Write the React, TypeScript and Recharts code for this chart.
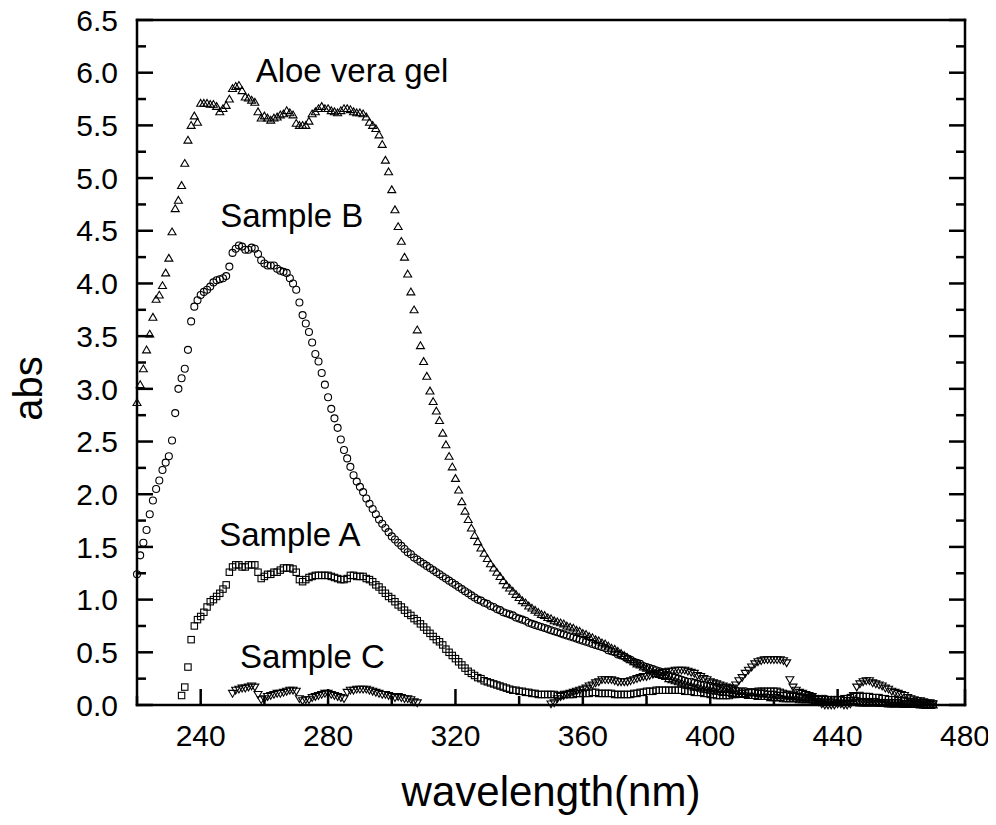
import { ScatterChart, Scatter, XAxis, YAxis, ReferenceDot } from "recharts"

const FONT = "'Liberation Sans', Arial, Helvetica, sans-serif"

// absorbance readings, 1 nm steps from each start wavelength
const aloeStart = 220
const aloeAbs = [
  2.87, 3.04, 3.19, 3.37, 3.52, 3.68, 3.85, 3.89, 3.98, 4.10,
  4.24, 4.49, 4.71, 4.79, 4.93, 5.14, 5.36, 5.50, 5.59, 5.53,
  5.71, 5.71, 5.71, 5.70, 5.70, 5.68, 5.63, 5.66, 5.69, 5.75,
  5.85, 5.87, 5.88, 5.83, 5.77, 5.76, 5.74, 5.72, 5.63, 5.57,
  5.59, 5.57, 5.55, 5.57, 5.58, 5.60, 5.61, 5.64, 5.62, 5.60,
  5.52, 5.50, 5.50, 5.50, 5.54, 5.61, 5.63, 5.66, 5.68, 5.66,
  5.66, 5.64, 5.63, 5.62, 5.64, 5.66, 5.66, 5.65, 5.63, 5.62,
  5.62, 5.61, 5.58, 5.53, 5.50, 5.47, 5.41, 5.32, 5.17, 5.06,
  4.89, 4.70, 4.54, 4.40, 4.25, 4.09, 3.92, 3.75, 3.56, 3.41,
  3.26, 3.12, 2.98, 2.88, 2.79, 2.70, 2.58, 2.47, 2.36, 2.26,
  2.15, 2.04, 1.93, 1.84, 1.76, 1.68, 1.61, 1.55, 1.49, 1.44,
  1.39, 1.34, 1.30, 1.26, 1.22, 1.18, 1.14, 1.11, 1.08, 1.05,
  1.02, 0.99, 0.97, 0.94, 0.92, 0.90, 0.88, 0.86, 0.85, 0.83,
  0.82, 0.80, 0.79, 0.78, 0.77, 0.75, 0.74, 0.73, 0.71, 0.70,
  0.68, 0.67, 0.65, 0.64, 0.62, 0.61, 0.59, 0.58, 0.56, 0.54,
  0.53, 0.51, 0.49, 0.47, 0.45, 0.43, 0.41, 0.39, 0.38, 0.36,
  0.35, 0.33, 0.32, 0.30, 0.29, 0.28, 0.27, 0.25, 0.24, 0.23,
  0.22, 0.21, 0.20, 0.19, 0.18, 0.17, 0.17, 0.16, 0.15, 0.15,
  0.14, 0.14, 0.13, 0.13, 0.12, 0.12, 0.12, 0.11, 0.11, 0.10,
  0.10, 0.10, 0.09, 0.09, 0.09, 0.08, 0.08, 0.08, 0.08, 0.07,
  0.07, 0.07, 0.07, 0.06, 0.06, 0.06, 0.06, 0.06, 0.05, 0.05,
  0.05, 0.05, 0.05, 0.04, 0.04, 0.04, 0.04, 0.04, 0.04, 0.03,
  0.03, 0.03, 0.03, 0.03, 0.03, 0.03, 0.03, 0.02, 0.02, 0.02,
  0.02, 0.02, 0.02, 0.02, 0.02, 0.02, 0.01, 0.01, 0.01, 0.01,
  0.01, 0.01, 0.01, 0.01, 0.01, 0.01, 0.00, 0.00, 0.00, 0.00,
  0.00,
]

const sampleBStart = 220
const sampleBAbs = [
  1.24, 1.42, 1.54, 1.66, 1.81, 1.94, 2.05, 2.13, 2.23, 2.30,
  2.36, 2.51, 2.77, 3.00, 3.10, 3.19, 3.37, 3.64, 3.78, 3.84,
  3.89, 3.92, 3.94, 3.97, 4.01, 4.03, 4.04, 4.05, 4.07, 4.16,
  4.29, 4.33, 4.36, 4.35, 4.32, 4.32, 4.34, 4.33, 4.28, 4.22,
  4.19, 4.17, 4.17, 4.17, 4.14, 4.12, 4.11, 4.10, 4.05, 4.00,
  3.94, 3.82, 3.70, 3.62, 3.54, 3.44, 3.33, 3.26, 3.15, 3.04,
  2.92, 2.81, 2.72, 2.63, 2.52, 2.42, 2.34, 2.26, 2.18, 2.12,
  2.07, 2.02, 1.96, 1.91, 1.86, 1.81, 1.76, 1.72, 1.68, 1.64,
  1.60, 1.57, 1.54, 1.51, 1.48, 1.45, 1.43, 1.40, 1.38, 1.36,
  1.34, 1.32, 1.30, 1.28, 1.26, 1.24, 1.22, 1.20, 1.18, 1.16,
  1.14, 1.12, 1.10, 1.08, 1.06, 1.04, 1.02, 1.00, 0.99, 0.97,
  0.96, 0.94, 0.93, 0.91, 0.90, 0.88, 0.87, 0.86, 0.85, 0.83,
  0.82, 0.81, 0.80, 0.78, 0.77, 0.76, 0.75, 0.74, 0.73, 0.72,
  0.71, 0.70, 0.69, 0.68, 0.67, 0.66, 0.65, 0.64, 0.63, 0.62,
  0.61, 0.60, 0.59, 0.58, 0.57, 0.56, 0.55, 0.54, 0.52, 0.51,
  0.50, 0.48, 0.47, 0.46, 0.44, 0.43, 0.41, 0.40, 0.39, 0.37,
  0.36, 0.35, 0.34, 0.33, 0.32, 0.31, 0.29, 0.28, 0.27, 0.26,
  0.25, 0.24, 0.23, 0.22, 0.22, 0.21, 0.20, 0.19, 0.19, 0.18,
  0.18, 0.17, 0.17, 0.16, 0.16, 0.15, 0.15, 0.14, 0.14, 0.13,
  0.13, 0.13, 0.12, 0.12, 0.12, 0.11, 0.11, 0.11, 0.10, 0.10,
  0.10, 0.09, 0.09, 0.09, 0.09, 0.08, 0.08, 0.08, 0.08, 0.07,
  0.07, 0.07, 0.07, 0.06, 0.06, 0.06, 0.06, 0.05, 0.05, 0.05,
  0.05, 0.05, 0.04, 0.04, 0.04, 0.04, 0.04, 0.03, 0.03, 0.03,
  0.03, 0.03, 0.03, 0.02, 0.02, 0.02, 0.02, 0.02, 0.02, 0.02,
  0.01, 0.01, 0.01, 0.01, 0.01, 0.01, 0.01, 0.00, 0.00, 0.00,
  0.00,
]

const sampleAStart = 234
const sampleAAbs = [
  0.09, 0.17, 0.36, 0.62, 0.75, 0.81, 0.84, 0.88, 0.93, 0.98,
  1.00, 1.03, 1.06, 1.10, 1.14, 1.26, 1.31, 1.33, 1.33, 1.31,
  1.31, 1.33, 1.33, 1.33, 1.26, 1.20, 1.22, 1.24, 1.24, 1.26,
  1.26, 1.28, 1.30, 1.30, 1.30, 1.29, 1.26, 1.19, 1.17, 1.19,
  1.21, 1.22, 1.23, 1.23, 1.23, 1.23, 1.23, 1.22, 1.21, 1.20,
  1.19, 1.19, 1.20, 1.23, 1.23, 1.22, 1.22, 1.22, 1.20, 1.19,
  1.17, 1.14, 1.12, 1.09, 1.06, 1.03, 1.01, 0.98, 0.95, 0.93,
  0.90, 0.87, 0.85, 0.82, 0.80, 0.77, 0.74, 0.71, 0.68, 0.65,
  0.62, 0.60, 0.57, 0.53, 0.50, 0.47, 0.44, 0.41, 0.38, 0.35,
  0.32, 0.30, 0.28, 0.26, 0.25, 0.23, 0.22, 0.21, 0.20, 0.19,
  0.18, 0.17, 0.16, 0.15, 0.14, 0.14, 0.13, 0.13, 0.12, 0.12,
  0.11, 0.11, 0.10, 0.10, 0.10, 0.10, 0.10, 0.10, 0.09, 0.09,
  0.10, 0.10, 0.10, 0.10, 0.11, 0.11, 0.11, 0.11, 0.11, 0.12,
  0.12, 0.11, 0.11, 0.11, 0.11, 0.11, 0.10, 0.10, 0.10, 0.10,
  0.10, 0.10, 0.11, 0.11, 0.12, 0.12, 0.13, 0.13, 0.13, 0.14,
  0.14, 0.14, 0.14, 0.14, 0.14, 0.14, 0.14, 0.14, 0.13, 0.13,
  0.13, 0.12, 0.12, 0.12, 0.11, 0.11, 0.10, 0.10, 0.09, 0.09,
  0.09, 0.09, 0.09, 0.10, 0.10, 0.11, 0.11, 0.11, 0.12, 0.12,
  0.12, 0.13, 0.13, 0.13, 0.13, 0.13, 0.13, 0.13, 0.12, 0.11,
  0.10, 0.10, 0.09, 0.08, 0.07, 0.07, 0.06, 0.06, 0.05, 0.05,
  0.05, 0.05, 0.05, 0.05, 0.05, 0.05, 0.05, 0.05, 0.06, 0.06,
  0.07, 0.08, 0.08, 0.09, 0.08, 0.08, 0.08, 0.07, 0.07, 0.07,
  0.06, 0.06, 0.05, 0.05, 0.05, 0.04, 0.04, 0.04, 0.03, 0.03,
  0.03, 0.02, 0.02, 0.02, 0.01, 0.01, 0.01,
]

// null = below zero, not shown in the original
const sampleCStart = 250
const sampleCAbs = [
  0.11, 0.14, 0.15, 0.16, 0.16, 0.17, 0.18, 0.17, 0.10, 0.05,
  0.06, 0.08, 0.09, 0.10, 0.11, 0.11, 0.12, 0.13, 0.14, 0.14,
  0.13, 0.06, 0.04, 0.05, 0.05, 0.07, 0.08, 0.09, 0.10, 0.11,
  0.11, 0.10, 0.09, 0.08, 0.07, 0.06, 0.12, 0.14, 0.14, 0.15,
  0.15, 0.15, 0.15, 0.14, 0.13, 0.12, 0.11, 0.10, 0.10, 0.09,
  0.08, 0.07, 0.08, 0.07, 0.06, 0.06, 0.05, 0.03, 0.02, null,
  null, null, null, null, null, null, null, null, null, null,
  null, null, null, null, null, null, null, null, null, null,
  null, null, null, null, null, null, null, null, null, null,
  null, null, null, null, null, null, null, null, null, null,
  0.01, 0.02, 0.06, 0.08, 0.09, 0.10, 0.11, 0.12, 0.13, 0.14,
  0.15, 0.16, 0.18, 0.19, 0.21, 0.22, 0.24, 0.24, 0.24, 0.24,
  0.23, 0.22, 0.22, 0.22, 0.22, 0.23, 0.24, 0.25, 0.26, 0.27,
  0.27, 0.28, 0.29, 0.30, 0.30, 0.31, 0.31, 0.32, 0.32, 0.33,
  0.33, 0.33, 0.33, 0.32, 0.31, 0.30, 0.28, 0.27, 0.25, 0.24,
  0.22, 0.21, 0.20, 0.19, 0.18, 0.17, 0.16, 0.16, 0.19, 0.23,
  0.26, 0.30, 0.33, 0.36, 0.39, 0.41, 0.42, 0.43, 0.43, 0.43,
  0.43, 0.43, 0.43, 0.42, 0.40, 0.24, 0.17, 0.14, 0.12, 0.11,
  0.10, 0.09, 0.08, 0.06, 0.03, 0.01, 0.00, 0.00, 0.00, 0.00,
  0.01, 0.01, 0.00, 0.00, 0.01, 0.09, 0.17, 0.20, 0.22, 0.23,
  0.23, 0.21, 0.20, 0.19, 0.18, 0.16, 0.15, 0.13, 0.12, 0.11,
  0.10, 0.09, 0.07, 0.06, 0.05, 0.04, 0.04, 0.03, 0.02, 0.02,
  0.01,
]

const xTicks = [220, 240, 260, 280, 300, 320, 340, 360, 380, 400, 420, 440, 460, 480]
const yTicks = [
  0, 0.25, 0.5, 0.75, 1, 1.25, 1.5, 1.75, 2, 2.25, 2.5, 2.75, 3, 3.25,
  3.5, 3.75, 4, 4.25, 4.5, 4.75, 5, 5.25, 5.5, 5.75, 6, 6.25, 6.5,
]

const annotations = [
  { text: "Aloe vera gel", x: 287.5, y: 6.02 },
  { text: "Sample B", x: 268.6, y: 4.65 },
  { text: "Sample A", x: 268, y: 1.62 },
  { text: "Sample C", x: 275.1, y: 0.465 },
]

const toPoints = (start: number, values: (number | null)[]) =>
  values.flatMap((v, i) => (v === null ? [] : [{ x: start + i, y: v }]))

const isMajorX = (v: number) => v % 40 === 0
const isMajorY = (v: number) => Math.abs(v * 2 - Math.round(v * 2)) < 1e-6

const TriUp = ({ cx, cy }: any) => (
  <path d={`M${cx},${cy - 3.8}L${cx + 4},${cy + 3}L${cx - 4},${cy + 3}Z`} fill="none" stroke="#000" strokeWidth={1.1} />
)
const TriDown = ({ cx, cy }: any) => (
  <path d={`M${cx},${cy + 3.8}L${cx + 4},${cy - 3}L${cx - 4},${cy - 3}Z`} fill="none" stroke="#000" strokeWidth={1.1} />
)
const Ring = ({ cx, cy }: any) => <circle cx={cx} cy={cy} r={3.5} fill="none" stroke="#000" strokeWidth={1.1} />
const Box = ({ cx, cy }: any) => (
  <rect x={cx - 3.2} y={cy - 3.2} width={6.4} height={6.4} fill="none" stroke="#000" strokeWidth={1.1} />
)

const BottomTick = ({ x, y, payload }: any) => {
  const major = isMajorX(payload.value)
  return (
    <g>
      <line x1={x} x2={x} y1={y} y2={y - (major ? 16 : 9)} stroke="#000" strokeWidth={2.5} />
      {major && (
        <text x={x} y={y + 41} textAnchor="middle" fontSize={30} fontFamily={FONT} fill="#000">
          {payload.value}
        </text>
      )}
    </g>
  )
}

const TopTick = ({ x, y, payload }: any) => (
  <line x1={x} x2={x} y1={y} y2={y + (isMajorX(payload.value) ? 15 : 8)} stroke="#000" strokeWidth={2.5} />
)

const LeftTick = ({ x, y, payload }: any) => {
  const major = isMajorY(payload.value)
  return (
    <g>
      <line x1={x} x2={x + (major ? 16 : 9)} y1={y} y2={y} stroke="#000" strokeWidth={2.5} />
      {major && (
        <text x={x - 19} y={y + 10.7} textAnchor="end" fontSize={30} fontFamily={FONT} fill="#000">
          {payload.value.toFixed(1)}
        </text>
      )}
    </g>
  )
}

const RightTick = ({ x, y, payload }: any) => (
  <line x1={x} x2={x - (isMajorY(payload.value) ? 16 : 9)} y1={y} y2={y} stroke="#000" strokeWidth={2.5} />
)

const axisLine = { stroke: "#000", strokeWidth: 2.5, strokeLinecap: "square" as const }

export default function App() {
  return (
    <div style={{ width: 980, height: 810, fontFamily: FONT }}>
      <ScatterChart width={980} height={810} margin={{ top: 11, right: 22, bottom: 0, left: 0 }}>
        <XAxis
          type="number"
          dataKey="x"
          domain={[220, 480]}
          ticks={xTicks}
          interval={0}
          height={113}
          tickSize={0}
          tickMargin={0}
          tickLine={false}
          axisLine={axisLine}
          tick={BottomTick}
          label={{
            content: ({ viewBox }: any) => (
              <text
                x={viewBox.x + viewBox.width / 2}
                y={viewBox.y + 101}
                textAnchor="middle"
                fontSize={42}
                fontFamily={FONT}
                fill="#000"
              >
                wavelength(nm)
              </text>
            ),
          }}
        />
        <XAxis
          xAxisId="top"
          orientation="top"
          type="number"
          domain={[220, 480]}
          allowDataOverflow
          ticks={xTicks}
          interval={0}
          height={1}
          tickSize={0}
          tickMargin={0}
          tickLine={false}
          axisLine={axisLine}
          tick={TopTick}
        />
        <YAxis
          type="number"
          dataKey="y"
          domain={[0, 6.5]}
          ticks={yTicks}
          interval={0}
          width={129}
          tickSize={0}
          tickMargin={0}
          tickLine={false}
          axisLine={axisLine}
          tick={LeftTick}
          label={{
            content: () => (
              <text
                x={34}
                y={380.5}
                transform="rotate(-90, 34, 380.5)"
                textAnchor="middle"
                fontSize={40}
                fontFamily={FONT}
                fill="#000"
              >
                abs
              </text>
            ),
          }}
        />
        <YAxis
          yAxisId="right"
          orientation="right"
          type="number"
          domain={[0, 6.5]}
          allowDataOverflow
          ticks={yTicks}
          interval={0}
          width={1}
          tickSize={0}
          tickMargin={0}
          tickLine={false}
          axisLine={axisLine}
          tick={RightTick}
        />
        <Scatter data={toPoints(aloeStart, aloeAbs)} shape={TriUp} isAnimationActive={false} />
        <Scatter data={toPoints(sampleBStart, sampleBAbs)} shape={Ring} isAnimationActive={false} />
        <Scatter data={toPoints(sampleAStart, sampleAAbs)} shape={Box} isAnimationActive={false} />
        <Scatter data={toPoints(sampleCStart, sampleCAbs)} shape={TriDown} isAnimationActive={false} />
        {annotations.map((a) => (
          <ReferenceDot
            key={a.text}
            x={a.x}
            y={a.y}
            r={0}
            fill="none"
            stroke="none"
            label={{ value: a.text, position: "center", fontSize: 33, fontFamily: FONT, fill: "#000" }}
          />
        ))}
      </ScatterChart>
    </div>
  )
}
